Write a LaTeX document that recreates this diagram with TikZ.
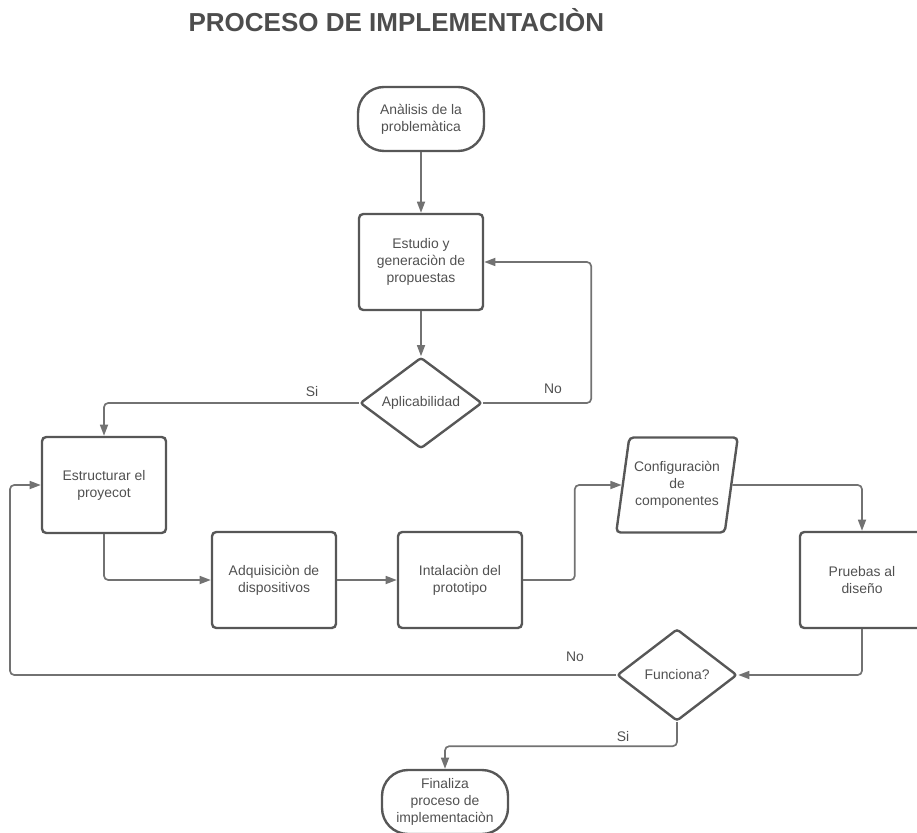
\documentclass[tikz,border=0pt]{standalone}
\usepackage{fontspec}
\setmainfont{Liberation Sans}
\usepackage{tikz}
\usetikzlibrary{arrows.meta}
\usetikzlibrary{shapes.geometric}

\definecolor{titlegray}{HTML}{4D4D4D}
\definecolor{txtgray}{HTML}{505050}
\definecolor{boxgray}{HTML}{575757}
\definecolor{edgegray}{HTML}{727272}

\begin{document}
\begin{tikzpicture}[
	font=\fontsize{9.9}{12.1}\selectfont, text=txtgray,
	stepbox/.style={draw=boxgray, line width=1.7pt, rounded corners=3pt, align=center,
		minimum width=3.1cm, minimum height=2.4cm, inner sep=0pt},
	term/.style={stepbox, rounded corners=0.65cm, minimum width=3.15cm, minimum height=1.6cm},
	decision/.style={diamond, draw=boxgray, line width=1.7pt, rounded corners=2pt, align=center,
		minimum width=3.05cm, minimum height=2.25cm, inner sep=0pt},
	iobox/.style={trapezium, trapezium left angle=76, trapezium right angle=104,
		trapezium stretches=true, draw=boxgray, line width=1.7pt, rounded corners=3pt,
		align=center, minimum width=3.05cm, minimum height=2.375cm, inner sep=0pt},
	link/.style={draw=edgegray, line width=1.2pt, rounded corners=3pt},
	flow/.style={link, -{Triangle[length=2.8mm,width=2mm]}}
]
	\useasboundingbox (0,0) rectangle (22.925,-20.825);

	\node[font=\fontsize{18.5}{22}\selectfont\bfseries, text=titlegray, anchor=base] (title) at (9.91,-0.8) {PROCESO DE IMPLEMENTACIÒN};

	% main column
	\node[term] (ana) at (10.525,-2.975) {Anàlisis de la\\problemàtica};
	\node[stepbox] (est) at (10.525,-6.55) {Estudio y\\generaciòn de\\propuestas};
	\node[decision] (apl) at (10.525,-10.075) {Aplicabilidad};

	% second row
	\node[stepbox] (estr) at (2.6,-12.125) {Estructurar el\\proyecot};
	\node[stepbox] (adq) at (6.85,-14.5) {Adquisiciòn de\\dispositivos};
	\node[stepbox] (inst) at (11.5,-14.5) {Intalaciòn del\\prototipo};
	\node[iobox] (cfg) at (16.925,-12.125) {Configuraciòn\\de\\componentes};
	\node[stepbox] (prb) at (21.55,-14.5) {Pruebas al\\diseño};
	\node[decision, minimum width=3cm, minimum height=2.3cm] (fun) at (16.925,-16.875) {Funciona?};
	\node[term] (fin) at (11.125,-20.05) {Finaliza\\proceso de\\implementaciòn};

	\coordinate (back) at (0.25,-16.875);

	\draw[flow] (ana) -- (est);
	\draw[flow] (est) -- (apl);
	\draw[flow] (apl.east) -- ++(2.7,0) |- (est.east);
	\draw[flow] (apl.west) -| (estr.north);
	\draw[flow] (estr.south) |- (adq.west);
	\draw[flow] (adq) -- (inst);
	\draw[flow] (inst.east) -- ++(1.29,0) |- (cfg);
	\draw[flow] (cfg) -| (prb.north);
	\draw[flow] (prb.south) |- (fun.east);
	\draw[flow] (fun.west) -- (back) |- (estr.west);
	\draw[flow] (fun.south) -- ++(0,-0.6) -| (fin.north);

	\node (noa) at (13.825,-9.725) {No};
	\node (sia) at (7.8,-9.8) {Si};
	\node (nof) at (14.375,-16.425) {No};
	\node (sif) at (15.575,-18.425) {Si};
\end{tikzpicture}
\end{document}
